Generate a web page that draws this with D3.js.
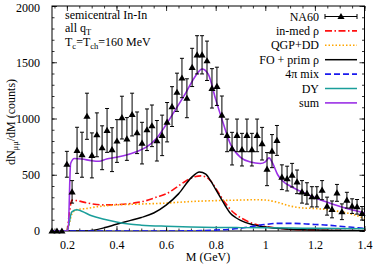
<!DOCTYPE html>
<html>
<head>
<meta charset="utf-8">
<script src="https://cdn.jsdelivr.net/npm/d3@7"></script>
<style>
  body { margin: 0; background: #fff; }
  svg text { font-family: "Liberation Serif", "DejaVu Serif", serif; font-size: 12px; fill: #000; }
</style>
</head>
<body>
<div id="chart"></div>
<script>
// NA60 data (mass in GeV, counts, error)
const na60Mass = [0.140, 0.160, 0.180, 0.200, 0.221, 0.241, 0.261, 0.281, 0.301, 0.321,
  0.342, 0.362, 0.382, 0.402, 0.422, 0.442, 0.463, 0.483, 0.503, 0.523,
  0.543, 0.563, 0.584, 0.604, 0.624, 0.644, 0.664, 0.684, 0.705, 0.725,
  0.745, 0.765, 0.785, 0.805, 0.825, 0.846, 0.866, 0.886, 0.906, 0.926,
  0.946, 0.967, 0.987, 1.007, 1.027, 1.047, 1.067, 1.088, 1.108, 1.128,
  1.148, 1.168, 1.188, 1.208, 1.229, 1.249, 1.269, 1.289, 1.309, 1.329,
  1.350, 1.370, 1.390];
const na60Counts = [0, 0, 0, 593, 348, 717, 678, 1020, 672, 855,
  740, 894, 723, 800, 1008, 818, 1035, 873, 781, 900,
  935, 802, 850, 967, 1106, 1233, 1360, 1180, 1454, 1566,
  1566, 1513, 1268, 1286, 1030, 850, 732, 850, 723, 850,
  723, 850, 776, 550, 710, 805, 478, 466, 496, 437,
  348, 334, 304, 304, 363, 221, 192, 339, 171, 274,
  221, 215, 157];
const na60Err = [0, 0, 0, 115, 100, 205, 200, 205, 200, 195,
  195, 195, 195, 190, 190, 190, 190, 185, 185, 185,
  185, 180, 180, 175, 177, 170, 175, 173, 170, 170,
  170, 175, 175, 170, 170, 145, 145, 145, 145, 145,
  145, 145, 145, 147, 147, 133, 110, 110, 105, 105,
  100, 95, 90, 90, 85, 80, 75, 75, 70, 70,
  65, 65, 60];

// model curves: [M, counts]
const inMedRho = [[0.14, 0], [0.20, 0], [0.21, 160], [0.22, 275], [0.24, 270], [0.28, 250], [0.32, 235],
  [0.36, 232], [0.40, 235], [0.44, 240], [0.48, 252], [0.52, 270], [0.56, 300], [0.60, 330],
  [0.64, 385], [0.68, 445], [0.72, 485], [0.74, 490], [0.76, 480], [0.78, 445], [0.80, 380],
  [0.82, 310], [0.84, 245], [0.86, 190], [0.88, 150], [0.92, 95], [0.96, 60], [1.00, 40],
  [1.05, 25], [1.10, 15], [1.20, 8], [1.30, 5], [1.40, 3]];
const qgpDD = [[0.14, 0], [0.20, 0], [0.22, 150], [0.24, 190], [0.28, 200], [0.32, 215], [0.40, 232],
  [0.50, 240], [0.60, 248], [0.70, 262], [0.80, 270], [0.90, 275], [0.96, 278], [1.00, 275],
  [1.05, 255], [1.10, 222], [1.15, 205], [1.20, 200], [1.25, 190], [1.30, 172], [1.35, 150], [1.40, 110]];
const foPrimRho = [[0.14, 0], [0.27, 0], [0.30, 5], [0.35, 28], [0.40, 60], [0.45, 90], [0.50, 120],
  [0.55, 160], [0.60, 230], [0.65, 330], [0.70, 470], [0.735, 525], [0.76, 505], [0.78, 445],
  [0.80, 370], [0.82, 295], [0.84, 220], [0.86, 155], [0.88, 120], [0.90, 95], [0.95, 55],
  [1.00, 35], [1.06, 22], [1.10, 15], [1.20, 8], [1.30, 4], [1.40, 2]];
const mix4pi = [[0.14, 0], [0.60, 0], [0.70, 2], [0.80, 8], [0.85, 14], [0.90, 25], [0.95, 42],
  [1.00, 58], [1.05, 68], [1.10, 68], [1.15, 65], [1.20, 58], [1.25, 52], [1.30, 42], [1.35, 33], [1.40, 24]];
const drellYan = [[0.14, 0], [0.20, 0], [0.22, 170], [0.24, 190], [0.26, 175], [0.30, 135], [0.35, 105],
  [0.40, 80], [0.45, 62], [0.50, 52], [0.60, 42], [0.70, 36], [0.80, 32], [0.90, 30], [1.00, 28],
  [1.10, 26], [1.20, 24], [1.30, 22], [1.40, 20]];
const sumCurve = [[0.14, 0], [0.205, 0], [0.215, 600], [0.23, 645], [0.26, 640], [0.30, 625], [0.33, 620],
  [0.36, 640], [0.40, 655], [0.44, 675], [0.48, 705], [0.52, 745], [0.56, 820], [0.60, 945],
  [0.64, 1086], [0.68, 1230], [0.72, 1383], [0.745, 1440], [0.77, 1395], [0.80, 1170], [0.83, 960],
  [0.86, 770], [0.90, 655], [0.94, 613], [0.98, 600], [1.00, 615], [1.015, 650], [1.03, 600],
  [1.05, 500], [1.07, 445], [1.10, 400], [1.14, 355], [1.20, 295], [1.27, 240], [1.34, 193], [1.40, 160]];

const xTicks = [0.2, 0.4, 0.6, 0.8, 1, 1.2, 1.4];
const yTicks = [0, 500, 1000, 1500, 2000];

const W = 374, H = 264;
const margin = { top: 6, right: 10, bottom: 33, left: 52 };
const pw = 312.5, ph = H - margin.top - margin.bottom;

const svg = d3.select('#chart').append('svg')
  .attr('width', W).attr('height', H);

const x = d3.scaleLinear().domain([0.14, 1.4]).range([0, pw]);
const y = d3.scaleLinear().domain([0, 2000]).range([ph, 0]);

const g = svg.append('g').attr('transform', `translate(${margin.left},${margin.top})`);

svg.append('defs').append('clipPath').attr('id', 'clip')
  .append('rect').attr('width', pw).attr('height', ph);

// ticks (inward, mirrored)
const xMinor = d3.range(0.15, 1.4001, 0.05);
const yMinor = d3.range(0, 2001, 100);
function tickAxis(axis, tr) {
  const a = g.append('g').attr('transform', tr).call(axis);
  a.select('.domain').remove();
  a.selectAll('line').attr('stroke', '#000').attr('stroke-width', 0.8);
  return a;
}
tickAxis(d3.axisBottom(x).tickValues(xMinor).tickSize(-2.5).tickFormat(''), `translate(0,${ph})`);
tickAxis(d3.axisTop(x).tickValues(xMinor).tickSize(-2.5).tickFormat(''), 'translate(0,0)');
tickAxis(d3.axisLeft(y).tickValues(yMinor).tickSize(-2.5).tickFormat(''), 'translate(0,0)');
tickAxis(d3.axisRight(y).tickValues(yMinor).tickSize(-2.5).tickFormat(''), `translate(${pw},0)`);
tickAxis(d3.axisTop(x).tickValues(xTicks).tickSize(-5).tickFormat(''), 'translate(0,0)');
tickAxis(d3.axisRight(y).tickValues(yTicks).tickSize(-5).tickFormat(''), `translate(${pw},0)`);

const xAx = tickAxis(d3.axisBottom(x).tickValues(xTicks).tickSize(-5).tickPadding(9)
  .tickFormat(d3.format('~g')), `translate(0,${ph})`);
xAx.selectAll('text').attr('font-size', null).attr('font-family', null);
const yAx = tickAxis(d3.axisLeft(y).tickValues(yTicks).tickSize(-5).tickPadding(12)
  .tickFormat(d3.format('d')), 'translate(0,0)');
yAx.selectAll('text').attr('font-size', null).attr('font-family', null)
  .attr('dy', d => d === 2000 ? '0.42em' : '0.32em');

// frame
g.append('rect').attr('width', pw).attr('height', ph)
  .attr('fill', 'none').attr('stroke', '#000').attr('stroke-width', 1);

// model curves
const line = d3.line().x(d => x(d[0])).y(d => y(d[1])).curve(d3.curveMonotoneX);
const series = [
  { data: inMedRho, label: 'in-med ρ', color: '#ff1010', dash: '7,2.5,1.5,2.5', w: 1.6 },
  { data: qgpDD, label: 'QGP+DD', color: '#ffa500', dash: '1.5,2', w: 1.6 },
  { data: foPrimRho, label: 'FO + prim ρ', color: '#000', dash: null, w: 1.5 },
  { data: mix4pi, label: '4π mix', color: '#1a1aee', dash: '6,3', w: 1.6 },
  { data: drellYan, label: 'DY', color: '#1a9e9a', dash: null, w: 1.5 },
  { data: sumCurve, label: 'sum', color: '#9b30e6', dash: null, w: 1.6 }
];
const curves = g.append('g').attr('clip-path', 'url(#clip)');
curves.selectAll('path').data(series).enter().append('path')
  .attr('d', d => line(d.data))
  .attr('fill', 'none')
  .attr('stroke', d => d.color)
  .attr('stroke-width', d => d.w)
  .attr('stroke-dasharray', d => d.dash);

// NA60 points with error bars
const pts = na60Mass.map((m, i) => ({ m, v: na60Counts[i], e: na60Err[i] }));
const eb = g.append('g').attr('stroke', '#000').attr('stroke-width', 1);
pts.filter(d => d.e > 0).forEach(d => {
  const cx = x(d.m), y0 = y(d.v - d.e), y1 = y(d.v + d.e);
  eb.append('line').attr('x1', cx).attr('x2', cx).attr('y1', y0).attr('y2', y1);
  eb.append('line').attr('x1', cx - 2).attr('x2', cx + 2).attr('y1', y0).attr('y2', y0);
  eb.append('line').attr('x1', cx - 2).attr('x2', cx + 2).attr('y1', y1).attr('y2', y1);
});
const tri = d3.symbol().type(d3.symbolTriangle).size(22);
g.append('g').selectAll('path').data(pts).enter().append('path')
  .attr('d', tri)
  .attr('transform', d => `translate(${x(d.m)},${y(d.v) + 0.5})`)
  .attr('fill', '#000');

// annotations
const ann = g.append('g').attr('transform', 'translate(13,0)');
ann.append('text').attr('y', 13).text('semicentral In-In');
const t2 = ann.append('text').attr('y', 26);
t2.append('tspan').text('all q');
t2.append('tspan').attr('dy', 2.5).attr('font-size', '8.5px').text('T');
const t3 = ann.append('text').attr('y', 40);
t3.append('tspan').text('T');
t3.append('tspan').attr('dy', 2.5).attr('font-size', '8.5px').text('c');
t3.append('tspan').attr('dy', -2.5).text('=T');
t3.append('tspan').attr('dy', 2.5).attr('font-size', '8.5px').text('ch');
t3.append('tspan').attr('dy', -2.5).text('=160 MeV');

// legend
const lg = svg.append('g');
const lx0 = 319, sx0 = 325, sx1 = 357, ly0 = 16.5, ldy = 14.4;
const rows = [{ label: 'NA60', na60: true }].concat(series);
rows.forEach((r, i) => {
  const yy = ly0 + i * ldy;
  lg.append('text').attr('x', lx0).attr('y', yy + 4).attr('text-anchor', 'end').text(r.label);
  if (r.na60) {
    lg.append('line').attr('x1', sx0).attr('x2', sx1).attr('y1', yy).attr('y2', yy)
      .attr('stroke', '#000').attr('stroke-width', 1);
    [sx0, sx1].forEach(cx => lg.append('line').attr('x1', cx).attr('x2', cx)
      .attr('y1', yy - 2.5).attr('y2', yy + 2.5).attr('stroke', '#000'));
    lg.append('path').attr('d', tri).attr('fill', '#000')
      .attr('transform', `translate(${(sx0 + sx1) / 2},${yy + 0.5})`);
  } else {
    lg.append('line').attr('x1', sx0).attr('x2', sx1).attr('y1', yy).attr('y2', yy)
      .attr('stroke', r.color).attr('stroke-width', r.w).attr('stroke-dasharray', r.dash);
  }
});

// axis titles
svg.append('text').attr('x', 208).attr('y', 261).attr('text-anchor', 'middle').text('M (GeV)');
const yl = svg.append('text').attr('transform', 'translate(15,122) rotate(-90)').attr('text-anchor', 'middle');
yl.append('tspan').text('dN');
yl.append('tspan').attr('dy', 2.5).attr('font-size', '8.5px').text('μμ');
yl.append('tspan').attr('dy', -2.5).text('/dM (counts)');
</script>
</body>
</html>
